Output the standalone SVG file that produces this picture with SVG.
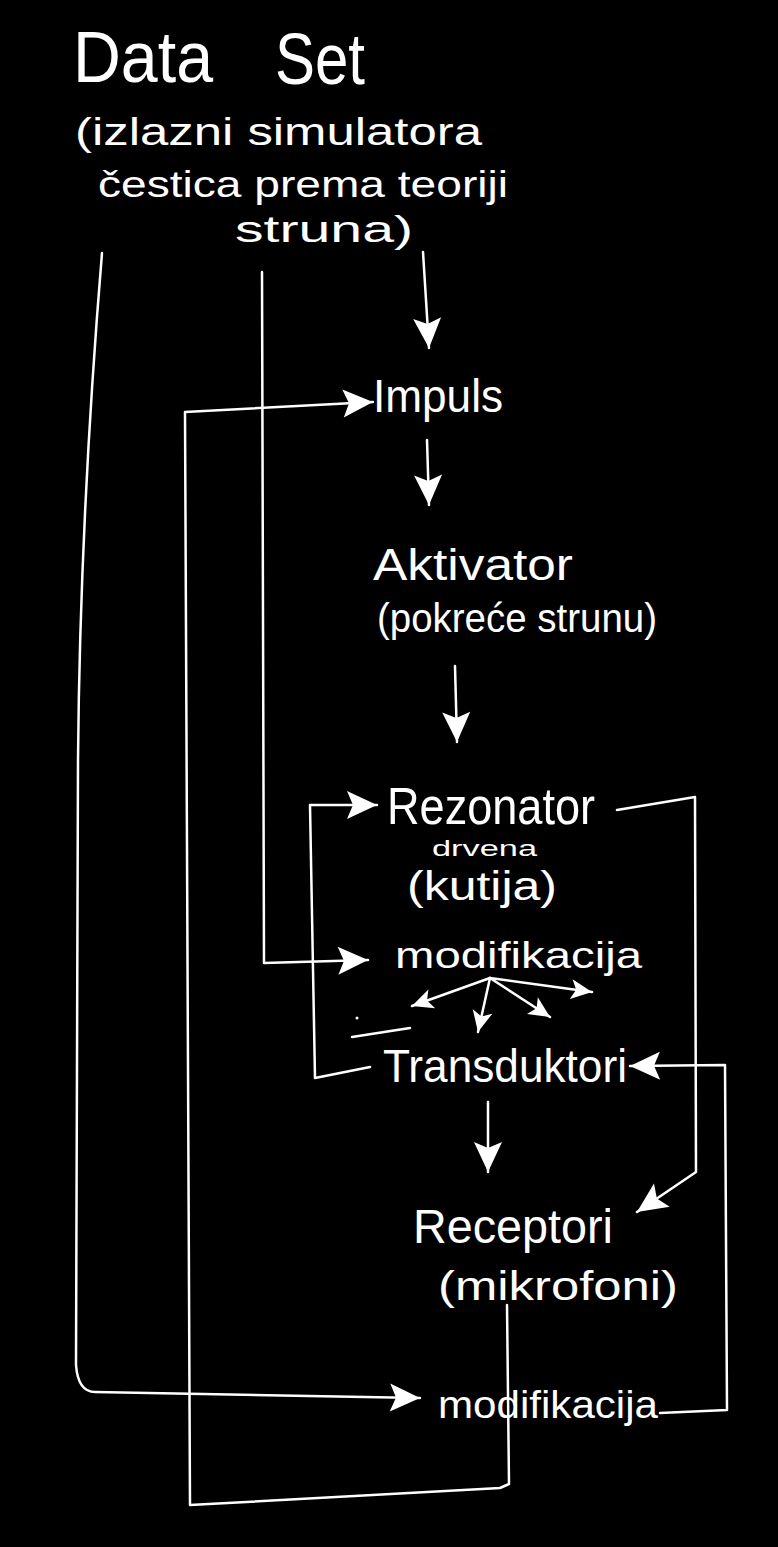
<svg xmlns="http://www.w3.org/2000/svg" width="778" height="1547" viewBox="0 0 778 1547">
<style>
.t{font-family:"Liberation Sans","DejaVu Sans",sans-serif;fill:#fff;}
.c{fill:none;stroke:#fff;stroke-width:2.5;stroke-linecap:round;stroke-linejoin:round;}
</style>
<defs>
<marker id="ah" markerUnits="userSpaceOnUse" markerWidth="36" markerHeight="36" refX="32" refY="16" orient="auto">
<path d="M2,2 L32,16 L2,30 L8,16 z" fill="#fff"/>
</marker>
<marker id="ahs" markerUnits="userSpaceOnUse" markerWidth="28" markerHeight="28" refX="22" refY="11" orient="auto">
<path d="M1,1 L22,11 L1,21 L6,11 z" fill="#fff"/>
</marker>
</defs>
<rect width="778" height="1547" fill="#000"/>
<g id="connectors">
<path class="c" d="M423,252 L429,348" marker-end="url(#ah)"/>
<path class="c" d="M507,1305 L509,1484 L500,1488 L190,1505 L185,412 L373,402" marker-end="url(#ah)"/>
<path class="c" d="M427,440 L429,505" marker-end="url(#ah)"/>
<path class="c" d="M455,666 L457,742" marker-end="url(#ah)"/>
<path class="c" d="M617,810 L695,797 L696,1172 L637,1212" marker-end="url(#ah)"/>
<path class="c" d="M370,1067 L315,1078 L310,805 L377,805" marker-end="url(#ah)"/>
<path class="c" d="M262,272 L264,963 L368,960" marker-end="url(#ah)"/>
<path class="c" d="M490,978 L412,1006" marker-end="url(#ahs)"/>
<path class="c" d="M490,978 L478,1032" marker-end="url(#ahs)"/>
<path class="c" d="M490,978 L550,1017" marker-end="url(#ahs)"/>
<path class="c" d="M490,978 L592,992" marker-end="url(#ahs)"/>
<path class="c" d="M660,1413 L727,1410 L725,1065 L630,1066" marker-end="url(#ah)"/>
<path class="c" d="M488,1102 L488,1172" marker-end="url(#ah)"/>
<path class="c" d="M102,253 Q80,520 78,760 L76,1365 Q78,1392 95,1392 L420,1398" marker-end="url(#ah)"/>
<path class="c" d="M352,1037 L410,1028"/>
<circle cx="357" cy="1018" r="1.5" fill="#fff"/>
</g>
<g id="dataset">
<text class="t" x="73" y="82" font-size="72" textLength="140" lengthAdjust="spacingAndGlyphs">Data</text>
<text class="t" x="275" y="84" font-size="72" textLength="90" lengthAdjust="spacingAndGlyphs">Set</text>
<text class="t" x="75" y="145" font-size="38" textLength="407" lengthAdjust="spacingAndGlyphs">(izlazni simulatora</text>
<text class="t" x="98" y="197" font-size="36" textLength="410" lengthAdjust="spacingAndGlyphs">čestica prema teoriji</text>
<text class="t" x="235" y="242" font-size="36" textLength="178" lengthAdjust="spacingAndGlyphs">struna)</text>
</g>
<g id="impuls">
<text class="t" x="373" y="412" font-size="46" textLength="130" lengthAdjust="spacingAndGlyphs">Impuls</text>
</g>
<g id="aktivator">
<text class="t" x="373" y="580" font-size="44" textLength="200" lengthAdjust="spacingAndGlyphs">Aktivator</text>
<text class="t" x="377" y="632" font-size="40" textLength="280" lengthAdjust="spacingAndGlyphs">(pokreće strunu)</text>
</g>
<g id="rezonator">
<text class="t" x="387" y="824" font-size="52" textLength="208" lengthAdjust="spacingAndGlyphs">Rezonator</text>
<text class="t" x="432" y="856" font-size="22" textLength="105" lengthAdjust="spacingAndGlyphs">drvena</text>
<text class="t" x="407" y="900" font-size="40" textLength="150" lengthAdjust="spacingAndGlyphs">(kutija)</text>
</g>
<g id="modifikacija1">
<text class="t" x="395" y="968" font-size="36" textLength="247" lengthAdjust="spacingAndGlyphs">modifikacija</text>
</g>
<g id="transduktori">
<text class="t" x="383" y="1082" font-size="46" textLength="244" lengthAdjust="spacingAndGlyphs">Transduktori</text>
</g>
<g id="receptori">
<text class="t" x="413" y="1243" font-size="48" textLength="200" lengthAdjust="spacingAndGlyphs">Receptori</text>
<text class="t" x="438" y="1300" font-size="40" textLength="240" lengthAdjust="spacingAndGlyphs">(mikrofoni)</text>
</g>
<g id="modifikacija2">
<text class="t" x="438" y="1418" font-size="38" textLength="220" lengthAdjust="spacingAndGlyphs">modifikacija</text>
</g>
</svg>
